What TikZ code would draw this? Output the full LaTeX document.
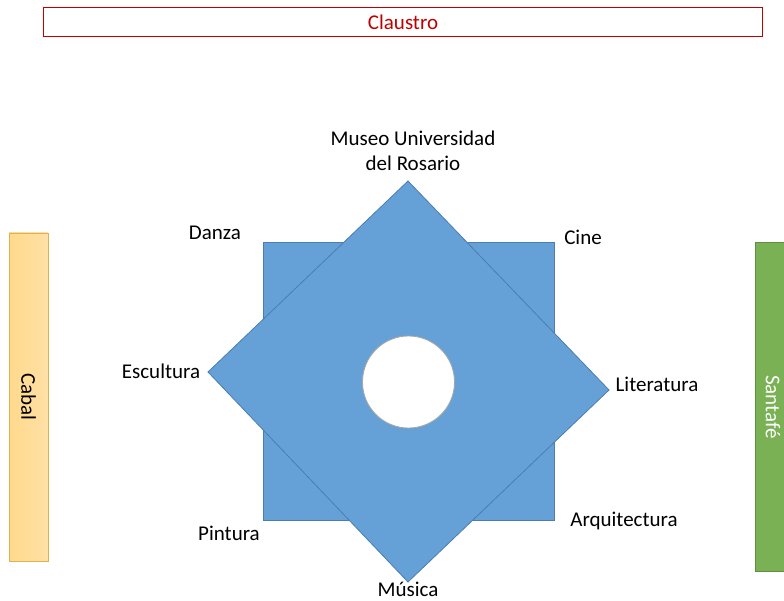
\documentclass[tikz,border=0pt]{standalone}
\usepackage{fontspec}
\setmainfont{Carlito}
\definecolor{sqblue}{HTML}{65A1D7}
\definecolor{sqedge}{HTML}{4B7DB0}
\definecolor{clred}{HTML}{C00000}
\definecolor{cabL}{HTML}{FFD98C}
\definecolor{cabR}{HTML}{FFE0A6}
\definecolor{cabE}{HTML}{D9B450}
\definecolor{santa}{HTML}{79B154}
\definecolor{santaE}{HTML}{5E8E3E}
\tikzset{
  lbl/.style={font=\fontsize{21}{25}\selectfont, text=black, inner sep=0pt, align=center},
  shapeblue/.style={fill=sqblue, draw=sqedge, line width=0.8pt}
}
\begin{document}
\begin{tikzpicture}[x=1pt,y=-1pt]
\useasboundingbox (0,0) rectangle (784,601);
% Claustro
\node[draw=clred, line width=1pt, minimum width=719pt, minimum height=29pt, anchor=north west, inner sep=0pt,
      font=\fontsize{21}{25}\selectfont, text=clred] (claustro) at (43,7) {Claustro};
% Cabal
\draw[draw=cabE, line width=0.8pt, left color=cabL, right color=cabR] (9,233) rectangle (48,561);
\node[lbl, rotate=-90] (cabal) at (28.5,397) {Cabal};
% Santafe
\draw[draw=santaE, line width=0.8pt, fill=santa] (755,242) rectangle (792,571);
\node[lbl, rotate=-90, text=white] (santafe) at (773,407) {Santafé};
% square
\draw[shapeblue] (263,242) rectangle (554,520);
% diamond
\draw[shapeblue] (408,181) -- (609,390) -- (408,582) -- (208,372) -- cycle;
% circle
\draw[fill=white, draw=gray!70, line width=0.8pt] (408.5,382) circle[radius=46];
% labels
\node[lbl] (museo) at (413,150.5) {Museo Universidad\\del Rosario};
\node[lbl] (danza) at (215,233) {Danza};
\node[lbl] (cine) at (583,237) {Cine};
\node[lbl] (escultura) at (161,371) {Escultura};
\node[lbl] (literatura) at (657,384) {Literatura};
\node[lbl] (pintura) at (229,533) {Pintura};
\node[lbl] (arq) at (624,521) {Arquitectura};
\node[lbl] (musica) at (408,589) {Música};
\end{tikzpicture}
\end{document}
